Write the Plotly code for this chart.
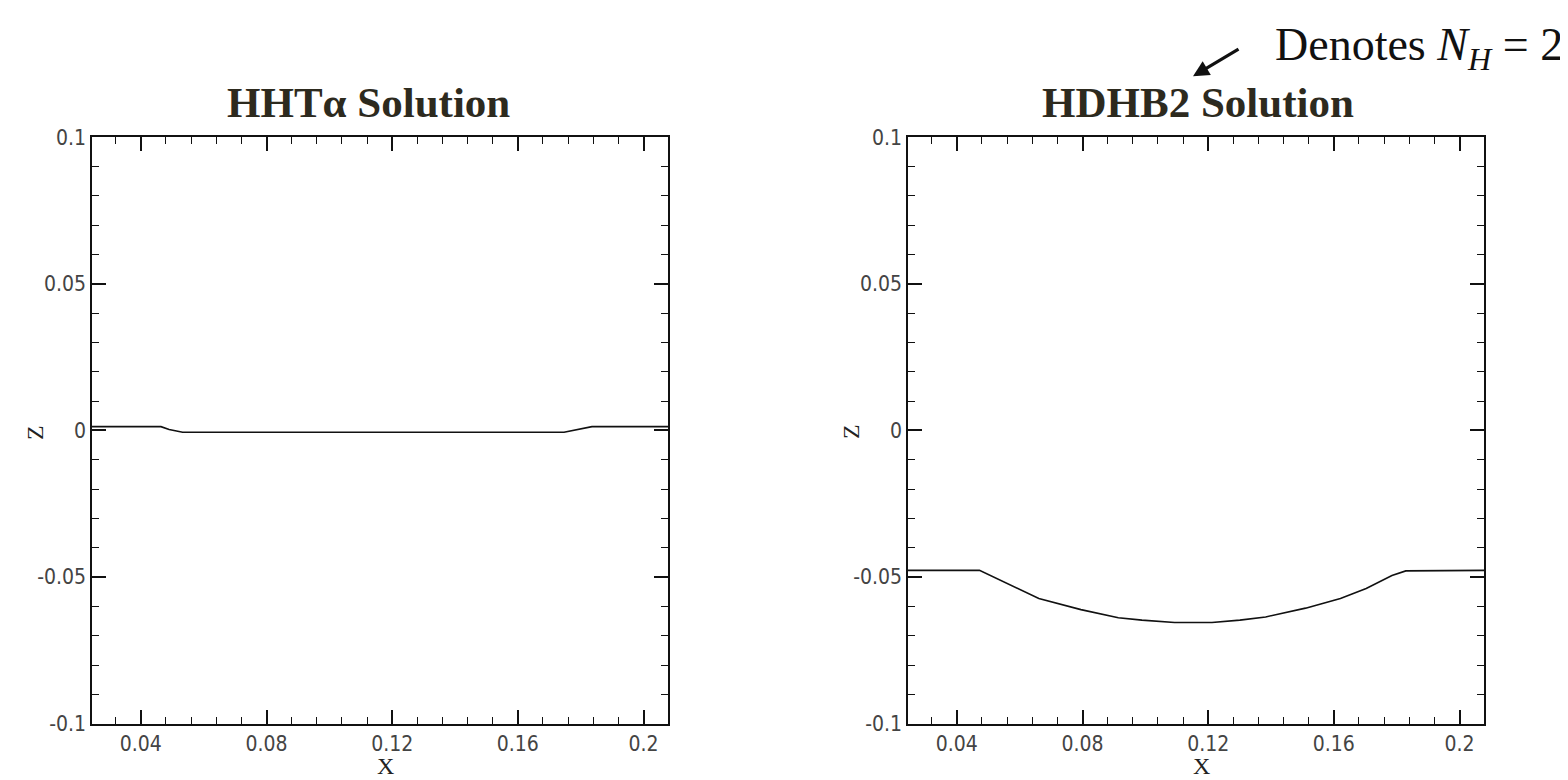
import plotly.graph_objects as go

# ---- data ----
hht_x = [0.02445, 0.0464, 0.0490, 0.0533, 0.1747, 0.1795, 0.1836, 0.2078]
hht_z = [0.0013, 0.0013, 0.0003, -0.0006, -0.0006, 0.0004, 0.0013, 0.0013]

hdhb_x = [0.02445, 0.0472, 0.0661, 0.0795, 0.0914, 0.0989, 0.1093, 0.1212,
          0.1301, 0.1383, 0.1510, 0.1621, 0.1703, 0.1785, 0.1829, 0.2078]
hdhb_z = [-0.0477, -0.0477, -0.0573, -0.0611, -0.0639, -0.0647, -0.0655, -0.0655,
          -0.0647, -0.0636, -0.0606, -0.0573, -0.0539, -0.0495, -0.0479, -0.0477]

x_tickvals = [0.04, 0.08, 0.12, 0.16, 0.2]
x_ticktext = ["0.04", "0.08", "0.12", "0.16", "0.2"]
y_tickvals = [-0.1, -0.05, 0, 0.05, 0.1]
y_ticktext = ["-0.1", "-0.05", "0", "0.05", "0.1"]

titles = ["HHT\u03b1 Solution", "HDHB2 Solution"]
note = "Denotes <i>N</i><sub><i>H</i></sub> = 2"

W, H = 1568, 780


def px(x):
    return x / W


def py(y):
    return 1 - y / H


fig = go.Figure()
fig.add_trace(go.Scatter(x=hht_x, y=hht_z, mode="lines",
                         line=dict(color="#111111", width=1.6),
                         xaxis="x", yaxis="y", showlegend=False))
fig.add_trace(go.Scatter(x=hdhb_x, y=hdhb_z, mode="lines",
                         line=dict(color="#111111", width=1.6),
                         xaxis="x2", yaxis="y2", showlegend=False))

tickfont = dict(family="Liberation Sans Narrow, DejaVu Sans Condensed, Arial Narrow, sans-serif",
                size=21, color="#444444")

xcommon = dict(range=[0.02445, 0.2078], tickmode="array", tickvals=x_tickvals,
               ticktext=x_ticktext, ticks="inside", ticklen=14, tickwidth=1.5,
               tickcolor="#111111", showline=True, linecolor="#111111", linewidth=1.5,
               mirror="ticks", showgrid=False, zeroline=False, tickfont=tickfont,
               minor=dict(tickmode="linear", tick0=0, dtick=0.008, ticks="inside",
                          ticklen=7, tickwidth=1.2, tickcolor="#111111", showgrid=False))
ycommon = dict(range=[-0.1, 0.1], tickmode="array", tickvals=y_tickvals,
               ticktext=y_ticktext, ticks="inside", ticklen=14, tickwidth=1.5,
               tickcolor="#111111", showline=True, linecolor="#111111", linewidth=1.5,
               mirror="ticks", showgrid=False, zeroline=False, tickfont=tickfont,
               minor=dict(tickmode="linear", tick0=0, dtick=0.01, ticks="inside",
                          ticklen=7, tickwidth=1.2, tickcolor="#111111", showgrid=False))

ydom = [py(726), py(121)]
fig.update_layout(
    width=W, height=H,
    margin=dict(l=0, r=0, t=0, b=0),
    paper_bgcolor="white", plot_bgcolor="white",
    xaxis=dict(domain=[px(84), px(660)], anchor="y", **xcommon),
    yaxis=dict(domain=ydom, anchor="x", **ycommon),
    xaxis2=dict(domain=[px(900), px(1476)], anchor="y2", **xcommon),
    yaxis2=dict(domain=ydom, anchor="x2", **ycommon),
)

title_font = dict(family="Liberation Serif, Times New Roman, serif", size=43, color="#2d2a1e")
axis_title_font = dict(family="Liberation Serif, Times New Roman, serif", size=24, color="#222222")

annots = [
    dict(text="<b>" + titles[0] + "</b>", x=px(360), y=py(85), xref="paper", yref="paper",
         showarrow=False, font=title_font, xanchor="center", yanchor="middle"),
    dict(text="<b>" + titles[1] + "</b>", x=px(1190), y=py(85), xref="paper", yref="paper",
         showarrow=False, font=title_font, xanchor="center", yanchor="middle"),
    dict(text="X", x=px(377), y=py(770), xref="paper", yref="paper", showarrow=False,
         font=axis_title_font, xanchor="center", yanchor="middle"),
    dict(text="X", x=px(1193), y=py(770), xref="paper", yref="paper", showarrow=False,
         font=axis_title_font, xanchor="center", yanchor="middle"),
    dict(text="Z", x=px(27), y=py(425), xref="paper", yref="paper", showarrow=False,
         font=axis_title_font, textangle=-90, xanchor="center", yanchor="middle"),
    dict(text="Z", x=px(843), y=py(425), xref="paper", yref="paper", showarrow=False,
         font=axis_title_font, textangle=-90, xanchor="center", yanchor="middle"),
    dict(text=note, x=px(1557), y=py(-3), xref="paper", yref="paper", showarrow=False,
         font=dict(family="Liberation Serif, Times New Roman, serif", size=46, color="#111111"),
         xanchor="right", yanchor="top"),
    dict(text="", x=px(1185), y=py(58), xref="paper", yref="paper", showarrow=True,
         ax=47, ay=-28, arrowhead=2, arrowsize=1.0, arrowwidth=3.2, arrowcolor="#111111"),
]
fig.update_layout(annotations=annots)

fig.write_html("out.html")
